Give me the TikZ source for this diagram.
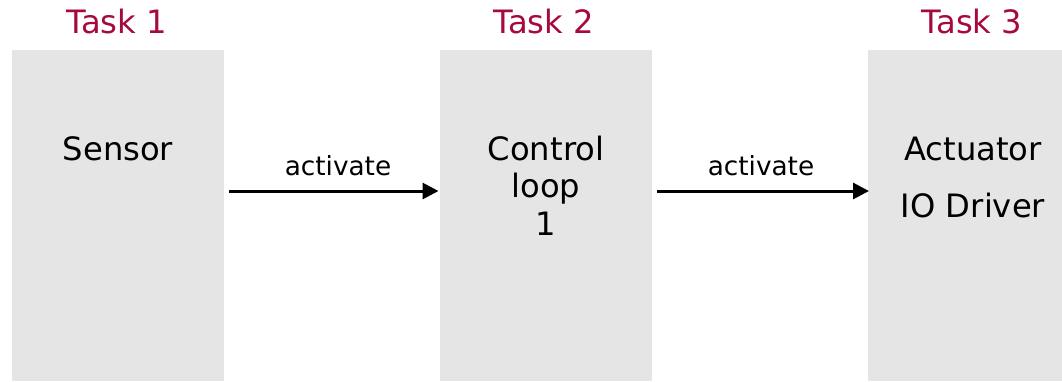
\documentclass[tikz,border=0pt]{standalone}
\usepackage{fontspec}
\setmainfont{DejaVu Sans}
\usetikzlibrary{arrows.meta}
\definecolor{boxgray}{HTML}{E5E5E5}
\definecolor{taskred}{HTML}{A6093D}
\begin{document}
\begin{tikzpicture}[x=1pt,y=-1pt,
  taskbox/.style={fill=boxgray,draw=none,minimum width=212pt,minimum height=331pt,inner sep=0pt,anchor=north west},
  tasklabel/.style={text=taskred,font=\fontsize{32.2}{38}\selectfont,anchor=base,inner sep=0pt},
  boxtext/.style={text=black,font=\fontsize{32.2}{38}\selectfont,anchor=base,inner sep=0pt,align=center},
  arrlabel/.style={text=black,font=\fontsize{26.3}{30}\selectfont,anchor=base,inner sep=0pt},
  arr/.style={line width=3pt,-{Triangle[length=16pt,width=16pt]}}]
\useasboundingbox (0,0) rectangle (1062,381);
\clip (0,0) rectangle (1062,381);
\node[taskbox] (b1) at (12,50) {};
\node[taskbox] (b2) at (440,50) {};
\node[taskbox] (b3) at (868,50) {};
\node[tasklabel] (t1) at (117,33) {Task 1};
\node[tasklabel] (t2) at (544,33) {Task 2};
\node[tasklabel] (t3) at (972,33) {Task 3};
\node[boxtext] (s) at (118,160) {Sensor};
\node[boxtext] (c1) at (546,160) {Control};
\node[boxtext] (c2) at (546,197.5) {loop};
\node[boxtext] (c3) at (546,235) {1};
\node[boxtext] (a1) at (973,160) {Actuator};
\node[boxtext] (a2) at (973,217) {IO Driver};
\coordinate (p1s) at (229,191);
\coordinate (p1e) at (438.5,191);
\coordinate (p2s) at (657,191);
\coordinate (p2e) at (869,191);
\draw[arr] (p1s) -- (p1e);
\draw[arr] (p2s) -- (p2e);
\node[arrlabel] (l1) at (338,175) {activate};
\node[arrlabel] (l2) at (761,175) {activate};
\end{tikzpicture}
\end{document}
